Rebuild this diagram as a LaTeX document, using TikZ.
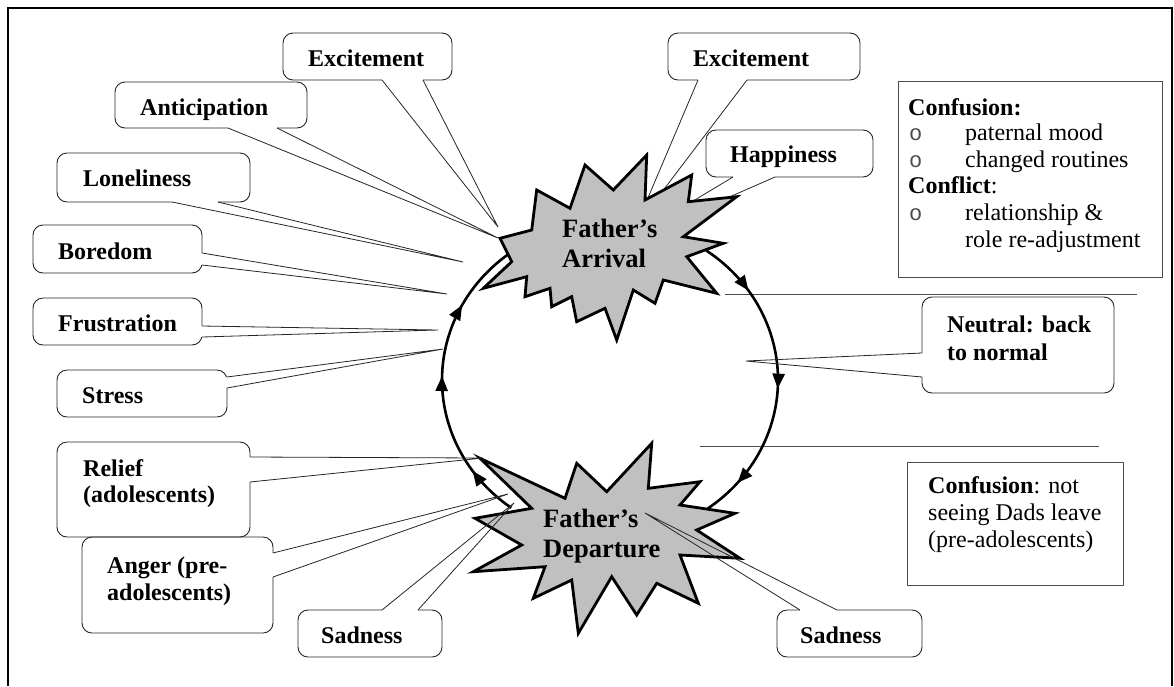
\documentclass[tikz,border=0pt]{standalone}
\usepackage{fontspec}
\setmainfont{Liberation Serif}
\newfontfamily\bulletfont{Liberation Mono}
\usetikzlibrary{arrows.meta,decorations.markings,fit}
\definecolor{starfill}{RGB}{192,192,192}
\tikzset{
  frameline/.style={line width=2pt, black},
  sepline/.style={line width=1pt, black!70},
  cbox/.style={draw=black!85, line width=0.9pt, rounded corners=10pt, inner sep=0pt},
  cline/.style={draw=black!85, line width=0.8pt},
  ctext/.style={font=\bfseries\fontsize{24}{27}\selectfont, inner sep=0pt, anchor=base west},
  ptext/.style={font=\fontsize{24}{27}\selectfont, inner sep=0pt, anchor=base west},
  bul/.style={font=\bulletfont\fontsize{22}{24}\selectfont, text=black!70, inner sep=0pt, anchor=base west},
  startext/.style={font=\bfseries\fontsize{26.5}{29}\selectfont, inner sep=0pt, anchor=base west},
  starshape/.style={draw=black, fill=starfill, line width=2.8pt, line join=miter, miter limit=20},
  infobox/.style={draw=black!70, line width=1pt, inner sep=0pt},
  cycarc/.style={line width=2.6pt, black, postaction={decorate}},
  cyctip/.tip={Triangle[length=15pt,width=12pt]},
}
\newcommand{\mkcallout}[6]{%
  \node[cbox, fit={#2 #3}] (#1) {};
  \coordinate (#1-a) at #4;
  \coordinate (#1-b) at #5;
  \coordinate (#1-tip) at #6;
  \draw[white, line width=2pt] (#1-a) -- (#1-b);
  \draw[cline] (#1-a) -- (#1-tip) -- (#1-b);
}
\begin{document}
\begin{tikzpicture}[x=1pt,y=-1pt]
\useasboundingbox (0,0) rectangle (1174,686);
\fill[white] (0,0) rectangle (1174,686);
% outer frame
\coordinate (fr-bl) at (8,686);
\coordinate (fr-tl) at (8,8);
\coordinate (fr-tr) at (1171.5,8);
\coordinate (fr-br) at (1171.5,686);
\draw[frameline] (fr-bl) -- (fr-tl) -- (fr-tr) -- (fr-br);
% separator lines
\coordinate (s1a) at (725,294); \coordinate (s1b) at (1137,294);
\coordinate (s2a) at (700,446); \coordinate (s2b) at (1099,446);
\draw[sepline] (s1a) -- (s1b);
\draw[sepline] (s2a) -- (s2b);
% cycle arcs
\coordinate (cyc) at (610,380);
\draw[cycarc, decoration={markings,
    mark=at position 0.19 with {\arrow{cyctip}},
    mark=at position 0.53 with {\arrow{cyctip}},
    mark=at position 0.87 with {\arrow{cyctip}}}]
  (cyc) ++(-55:168 and 158) arc[start angle=-55, end angle=54.6, x radius=168, y radius=158];
\draw[cycarc, decoration={markings,
    mark=at position 0.18 with {\arrow{cyctip}},
    mark=at position 0.52 with {\arrow{cyctip}},
    mark=at position 0.77 with {\arrow{cyctip}}}]
  (cyc) ++(126:168 and 158) arc[start angle=126, end angle=232.6, x radius=168, y radius=158];
% callouts pointing to the arrival
\mkcallout{exc1}{(283,33)}{(452,80)}{(382,80)}{(423,80)}{(498,227)}
\node[ctext] (exc1-t) at (308,66) {Excitement};
\mkcallout{ant}{(115,82)}{(307,128)}{(228,128)}{(277,128)}{(498,238)}
\node[ctext] (ant-t) at (140,115) {Anticipation};
\mkcallout{lon}{(57,153)}{(250,202)}{(172,202)}{(218,202)}{(463,262)}
\node[ctext] (lon-t) at (83,186) {Loneliness};
\mkcallout{bor}{(33,225)}{(202,273)}{(202,253)}{(202,265)}{(447,294)}
\node[ctext] (bor-t) at (58,259) {Boredom};
\mkcallout{fru}{(33,298)}{(202,345)}{(202,326)}{(202,337)}{(438,330)}
\node[ctext] (fru-t) at (58,331) {Frustration};
\mkcallout{str}{(57,370)}{(227,417)}{(227,377)}{(227,388)}{(443,349)}
\node[ctext] (str-t) at (82,403) {Stress};
\mkcallout{exc2}{(668,33)}{(860,80)}{(698,80)}{(747,80)}{(636,226)}
\node[ctext] (exc2-t) at (693,66) {Excitement};
\mkcallout{hap}{(706,130)}{(873,177)}{(733,177)}{(775,177)}{(620,245)}
\node[ctext] (hap-t) at (730,162) {Happiness};
% arrival star
\draw[starshape] (646.7,155) -- (645,200) -- (691.7,175) -- (688.3,201.7) -- (736.7,196.7)
  -- (683.3,236.7) -- (723.3,243.3) -- (686.7,256.7) -- (716.7,293.3) -- (663.3,280)
  -- (655,303.3) -- (633.3,290) -- (616.7,340) -- (605,308.3) -- (576.7,321.7)
  -- (571.7,296.7) -- (551.7,306.7) -- (550,288.3) -- (525,296.7) -- (526.7,276.7)
  -- (483.3,288.3) -- (511.7,261.7) -- (500,238.3) -- (531.7,230) -- (536.7,190)
  -- (570,208.3) -- (585,165) -- (613.3,190) -- cycle;
\node[startext] (arr-t1) at (562,237) {Father’s};
\node[startext] (arr-t2) at (562,267) {Arrival};
% departure star
\draw[starshape] (651.7,443.3) -- (648.3,488.3) -- (700,481.7) -- (680,505) -- (735,513.3)
  -- (696.7,530) -- (740,558.3) -- (680,555) -- (698.3,603.3) -- (656.7,583.3)
  -- (636.7,615) -- (611.7,576.7) -- (578.3,633.3) -- (571.7,580) -- (533.3,598.3)
  -- (545,566.7) -- (473.3,571.7) -- (521.7,545) -- (475,518.3) -- (531.7,508.3)
  -- (480,458.3) -- (565,498.3) -- (576.7,463.3) -- (606.7,491.7) -- cycle;
\node[startext] (dep-t1) at (543,527) {Father’s};
\node[startext] (dep-t2) at (543,557) {Departure};
% callouts pointing to the departure
\mkcallout{rel}{(57,442)}{(250,537)}{(250,457)}{(250,482)}{(483,458)}
\node[ctext] (rel-t1) at (83,476) {Relief};
\node[ctext] (rel-t2) at (83,502) {(adolescents)};
\mkcallout{ang}{(82,537)}{(273,633)}{(273,553)}{(273,577)}{(508,494)}
\node[ctext] (ang-t1) at (107,573) {Anger (pre-};
\node[ctext] (ang-t2) at (107,600) {adolescents)};
\mkcallout{sadl}{(298,610)}{(442,657)}{(382,610)}{(418,610)}{(514,503)}
\node[ctext] (sadl-t) at (321,643) {Sadness};
\mkcallout{sadr}{(777,610)}{(922,657)}{(800,610)}{(837,610)}{(645,513)}
\node[ctext] (sadr-t) at (800,643) {Sadness};
% neutral callout
\mkcallout{neu}{(922,297)}{(1114,393)}{(922,353)}{(922,377)}{(746,361)}
\node[ctext] (neu-t1) at (947,332) {Neutral: back};
\node[ctext] (neu-t2) at (947,360) {to normal};
% info box 1
\node[infobox, fit={(898,81) (1162,277)}] (conf1) {};
\node[ctext] (conf1-t1) at (908,115) {Confusion:};
\node[bul] (conf1-b1) at (909,140) {o};
\node[ptext] (conf1-t2) at (965,140) {paternal mood};
\node[bul] (conf1-b2) at (909,167) {o};
\node[ptext] (conf1-t3) at (965,167) {changed routines};
\node[ptext] (conf1-t4) at (908,193) {\textbf{Conflict}:};
\node[bul] (conf1-b3) at (909,220) {o};
\node[ptext] (conf1-t5) at (965,220) {relationship \&};
\node[ptext] (conf1-t6) at (965,247) {role re-adjustment};
% info box 2
\node[infobox, fit={(907,462) (1123,585)}] (conf2) {};
\node[ptext] (conf2-t1) at (928,493) {\textbf{Confusion}: not};
\node[ptext] (conf2-t2) at (928,520) {seeing Dads leave};
\node[ptext] (conf2-t3) at (928,547) {(pre-adolescents)};
\end{tikzpicture}
\end{document}
